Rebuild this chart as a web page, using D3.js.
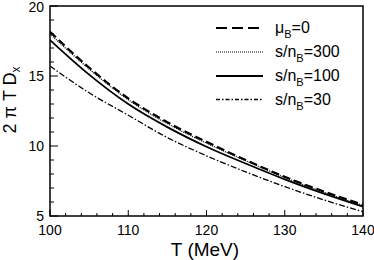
<!DOCTYPE html>
<html><head><meta charset="utf-8">
<script src="https://cdn.jsdelivr.net/npm/d3@7"></script>
<style>body{margin:0;background:#fff}svg{display:block}text{font-family:"Liberation Sans",Arial,sans-serif;fill:#000}</style>
</head><body><svg id="c" width="374" height="260"></svg>
<script>
const temps = [100,105,110,115,120,125,130,135,140];
const muB0   = [18.16,15.6,13.4,11.7,10.3,9.0,7.8,6.75,5.8];
const sn300  = [18.0,15.5,13.3,11.6,10.2,8.95,7.75,6.7,5.75];
const sn100  = [17.57,15.1,13.0,11.35,9.95,8.75,7.62,6.6,5.67];
const sn30   = [15.71,13.8,12.2,10.6,9.3,8.15,7.1,6.15,5.31];
const seriesNames = ["μB=0","s/nB=300","s/nB=100","s/nB=30"];
const xTicks = [100,110,120,130,140];
const yTicks = [5,10,15,20];

const svg = d3.select("#c");
const L=50,R=363,T=6,B=216;
const x = d3.scaleLinear().domain([100,140]).range([L,R]);
const y = d3.scaleLinear().domain([5,20]).range([B,T]);

const styles = [
  {dash:"8,4", w:2.2, ldash:"11,5"},
  {dash:"1,1", w:1.2, ldash:"1,1"},
  {dash:null, w:1.8, ldash:null},
  {dash:"6,2,1.5,2", w:1.3, ldash:"4,2,1.5,2"}
];
const allSeries=[muB0,sn300,sn100,sn30];
const line = d3.line().x((d,i)=>x(temps[i])).y(d=>y(d)).curve(d3.curveMonotoneX);
const g = svg.append("g");
g.append("clipPath").attr("id","cp").append("rect").attr("x",L).attr("y",T).attr("width",R-L).attr("height",B-T);
allSeries.forEach((s,k)=>{
  g.append("path").attr("d",line(s)).attr("fill","none").attr("stroke","#000")
   .attr("stroke-width",styles[k].w).attr("stroke-dasharray",styles[k].dash).attr("clip-path","url(#cp)");
});

// frame
svg.append("rect").attr("x",L).attr("y",T).attr("width",R-L).attr("height",B-T)
  .attr("fill","none").attr("stroke","#000").attr("stroke-width",1.5);

// ticks (inward)
d3.range(100,140.01,2).forEach(v=>{
  const maj = xTicks.includes(v);
  svg.append("line").attr("x1",x(v)).attr("x2",x(v)).attr("y1",B).attr("y2",B-(maj?6:3))
    .attr("stroke","#000").attr("stroke-width",1);
});
d3.range(5,20.01,1).forEach(v=>{
  const maj = yTicks.includes(v);
  svg.append("line").attr("x1",L).attr("x2",L+(maj?8:4)).attr("y1",y(v)).attr("y2",y(v))
    .attr("stroke","#000").attr("stroke-width",1);
});
xTicks.forEach(v=>{
  svg.append("text").attr("x",x(v)).attr("y",235).attr("text-anchor","middle")
    .attr("font-size",14).text(v);
});
yTicks.forEach(v=>{
  svg.append("text").attr("x",44).attr("y",Math.max(y(v)+5,12)).attr("text-anchor","end")
    .attr("font-size",14).text(v);
});
// axis titles
svg.append("text").attr("x",205).attr("y",256).attr("text-anchor","middle")
  .attr("font-size",19).text("T (MeV)");
const yt = svg.append("text").attr("transform","translate(16,100) rotate(-90)")
  .attr("text-anchor","middle").attr("font-size",18);
yt.append("tspan").text("2 π T D");
yt.append("tspan").attr("font-size",12).attr("dy",4).text("x");

// legend
const legY=[28,52,76,99.5];
const labels=[["μ","=0"],["s/n","=300"],["s/n","=100"],["s/n","=30"]];
legY.forEach((ly,k)=>{
  svg.append("line").attr("x1",216).attr("x2",263).attr("y1",ly).attr("y2",ly)
    .attr("stroke","#000").attr("stroke-width",styles[k].w).attr("stroke-dasharray",styles[k].ldash);
  const t = svg.append("text").attr("x",275).attr("y",ly+5).attr("font-size",16);
  t.append("tspan").text(labels[k][0]);
  t.append("tspan").attr("font-size",11).attr("dy",5).text("B");
  t.append("tspan").attr("dy",-5).text(labels[k][1]);
});
</script></body></html>
